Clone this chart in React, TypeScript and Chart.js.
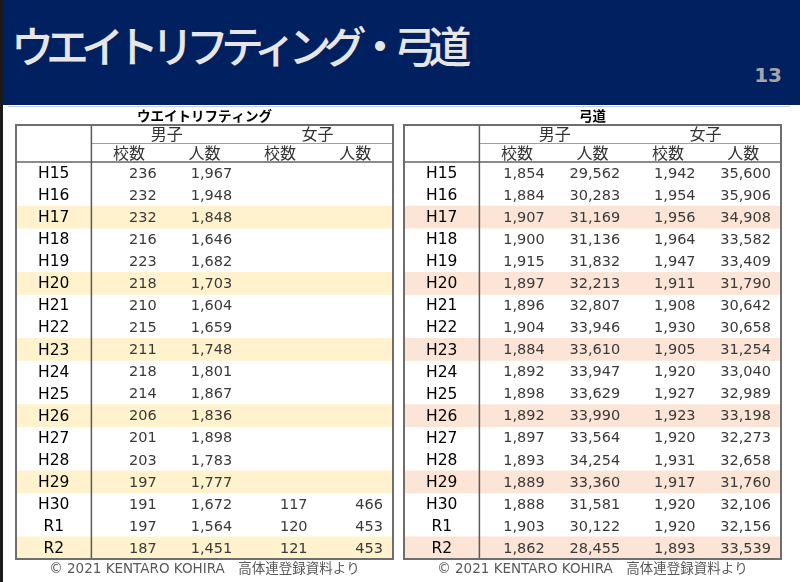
import React, { useEffect, useRef } from "react";
import { Chart, registerables } from "chart.js";

Chart.register(...registerables);

const slideTitle = "ウエイトリフティング・弓道";
const pageNumber = "13";
const footerText = "© 2021 KENTARO KOHIRA　高体連登録資料より";

const rowLabels = ["H15", "H16", "H17", "H18", "H19", "H20", "H21", "H22", "H23", "H24", "H25", "H26", "H27", "H28", "H29", "H30", "R1", "R2"];
const highlightRows = ["H17", "H20", "H23", "H26", "H29", "R2"];
const groupHeaders = ["男子", "女子"];
const columnHeaders = ["校数", "人数", "校数", "人数"];

// Weightlifting
const wlTitle = "ウエイトリフティング";
const wlBoysSchools = [236, 232, 232, 216, 223, 218, 210, 215, 211, 218, 214, 206, 201, 203, 197, 191, 197, 187];
const wlBoysAthletes = [1967, 1948, 1848, 1646, 1682, 1703, 1604, 1659, 1748, 1801, 1867, 1836, 1898, 1783, 1777, 1672, 1564, 1451];
const wlGirlsSchools = [null, null, null, null, null, null, null, null, null, null, null, null, null, null, null, 117, 120, 121];
const wlGirlsAthletes = [null, null, null, null, null, null, null, null, null, null, null, null, null, null, null, 466, 453, 453];

// Kyudo
const kyTitle = "弓道";
const kyBoysSchools = [1854, 1884, 1907, 1900, 1915, 1897, 1896, 1904, 1884, 1892, 1898, 1892, 1897, 1893, 1889, 1888, 1903, 1862];
const kyBoysAthletes = [29562, 30283, 31169, 31136, 31832, 32213, 32807, 33946, 33610, 33947, 33629, 33990, 33564, 34254, 33360, 31581, 30122, 28455];
const kyGirlsSchools = [1942, 1954, 1956, 1964, 1947, 1911, 1908, 1930, 1905, 1920, 1927, 1923, 1920, 1931, 1917, 1920, 1920, 1893];
const kyGirlsAthletes = [35600, 35906, 34908, 33582, 33409, 31790, 30642, 30658, 31254, 33040, 32989, 33198, 32273, 32658, 31760, 32106, 32156, 33539];

const NUM_FONT = '"DejaVu Sans", Verdana, sans-serif';
const JP_FONT = '"Noto Sans CJK JP", "DejaVu Sans", sans-serif';

function fmt(v: number | null) {
  if (v === null || v === undefined) return "";
  return v.toLocaleString("en-US");
}

type TableProps = {
  title: string;
  columns: (number | null)[][];
  band: string;
  left: number;
  padLeft: number;
  padRight: number;
};

function TableChart({ title, columns, band, left, padLeft, padRight }: TableProps) {
  const ref = useRef<HTMLCanvasElement | null>(null);
  useEffect(() => {
    if (!ref.current) return;
    const tablePlugin = {
      id: "tableText",
      afterDraw(chart: any) {
        const { ctx, chartArea, scales } = chart;
        const x = scales.x;
        const y = scales.y;
        const top = chartArea.top;
        const bottom = chartArea.bottom;
        const x0 = x.getPixelForValue(0);
        const x1 = x.getPixelForValue(1);
        const x5 = x.getPixelForValue(5);
        ctx.save();
        // lines
        ctx.strokeStyle = "#a0a0a0";
        ctx.lineWidth = 1;
        ctx.beginPath();
        ctx.moveTo(x1, top - 18.5);
        ctx.lineTo(x5, top - 18.5);
        ctx.stroke();
        ctx.strokeStyle = "#8a8a8a";
        ctx.lineWidth = 2;
        ctx.beginPath();
        ctx.moveTo(x0, top);
        ctx.lineTo(x5, top);
        ctx.stroke();
        ctx.strokeStyle = "#5a5a5a";
        ctx.lineWidth = 1.5;
        ctx.beginPath();
        ctx.moveTo(x1, top - 37);
        ctx.lineTo(x1, bottom);
        ctx.stroke();
        ctx.strokeStyle = "#6e6e6e";
        ctx.lineWidth = 2;
        ctx.strokeRect(x0, top - 37, x5 - x0, bottom - top + 37);

        ctx.textBaseline = "middle";
        // table title
        ctx.fillStyle = "#000";
        ctx.textAlign = "center";
        ctx.font = "bold 13.5px " + JP_FONT;
        ctx.fillText(title, x.getPixelForValue(2.5), top - 46);
        // group headers
        ctx.fillStyle = "#333";
        ctx.font = "16px " + JP_FONT;
        groupHeaders.forEach((g, i) => {
          ctx.fillText(g, x.getPixelForValue(2 + i * 2), top - 28);
        });
        columnHeaders.forEach((c, i) => {
          ctx.fillText(c, x.getPixelForValue(1.5 + i), top - 9);
        });
        // row labels
        ctx.fillStyle = "#000";
        ctx.font = "15.5px " + NUM_FONT;
        rowLabels.forEach((r, i) => {
          ctx.fillText(r, x.getPixelForValue(0.5), y.getPixelForValue(i) + 1);
        });
        // values
        ctx.fillStyle = "#3a3a3a";
        ctx.font = "14.5px " + NUM_FONT;
        ctx.textAlign = "right";
        columns.forEach((col, c) => {
          col.forEach((v, i) => {
            ctx.fillText(fmt(v), x.getPixelForValue(c + 2) - 10, y.getPixelForValue(i) + 1);
          });
        });
        // footer
        ctx.fillStyle = "#595959";
        ctx.textAlign = "center";
        ctx.font = "13.5px " + NUM_FONT + ', "Noto Sans CJK JP"';
        ctx.fillText(footerText, x.getPixelForValue(2.5), bottom + 10);
        ctx.restore();
      },
    };
    const chart = new Chart(ref.current, {
      type: "bar",
      data: {
        labels: rowLabels,
        datasets: [
          {
            data: rowLabels.map((r) => (highlightRows.includes(r) ? [0, 5] : null)) as any,
            backgroundColor: band,
            borderWidth: 0,
            barPercentage: 1,
            categoryPercentage: 1,
          },
        ],
      },
      options: {
        indexAxis: "y",
        animation: false,
        responsive: true,
        maintainAspectRatio: false,
        layout: { padding: { left: padLeft, right: padRight, top: 57, bottom: 23 } },
        plugins: { legend: { display: false }, tooltip: { enabled: false } },
        scales: {
          x: { type: "linear", min: 0, max: 5, display: false },
          y: { type: "category", display: false, offset: true },
        },
      },
      plugins: [tablePlugin],
    });
    return () => chart.destroy();
  }, []);
  return (
    <div style={{ position: "absolute", left, top: 105, width: 400, height: 477 }}>
      <canvas ref={ref} />
    </div>
  );
}

export default function App() {
  return (
    <div style={{ position: "fixed", left: 0, top: 0, width: 800, height: 582, background: "#fff", overflow: "hidden" }}>
      <div style={{ position: "absolute", left: 0, top: 0, width: 800, height: 105, background: "#002060" }} />
      <div
        style={{
          position: "absolute",
          left: 11,
          top: 22,
          fontFamily: JP_FONT,
          fontWeight: 500,
          fontSize: 43,
          lineHeight: "44px",
          letterSpacing: -8,
          color: "#e6e6e6",
          whiteSpace: "nowrap",
        }}
      >
        {slideTitle}
      </div>
      <div
        style={{
          position: "absolute",
          right: 18,
          top: 63,
          fontFamily: NUM_FONT,
          fontWeight: 700,
          fontSize: 20,
          lineHeight: "24px",
          color: "#a6a6a6",
        }}
      >
        {pageNumber}
      </div>
      <div style={{ position: "absolute", left: 8, top: 106, width: 782, height: 1, background: "#c8cbd8" }} />
      <TableChart
        title={wlTitle}
        columns={[wlBoysSchools, wlBoysAthletes, wlGirlsSchools, wlGirlsAthletes]}
        band="#fff2cc"
        left={0}
        padLeft={16}
        padRight={7}
      />
      <TableChart
        title={kyTitle}
        columns={[kyBoysSchools, kyBoysAthletes, kyGirlsSchools, kyGirlsAthletes]}
        band="#fce4d6"
        left={400}
        padLeft={4}
        padRight={19}
      />
      <div style={{ position: "absolute", left: 0, top: 0, width: 3, height: 582, background: "#1a1a1a" }} />
    </div>
  );
}
